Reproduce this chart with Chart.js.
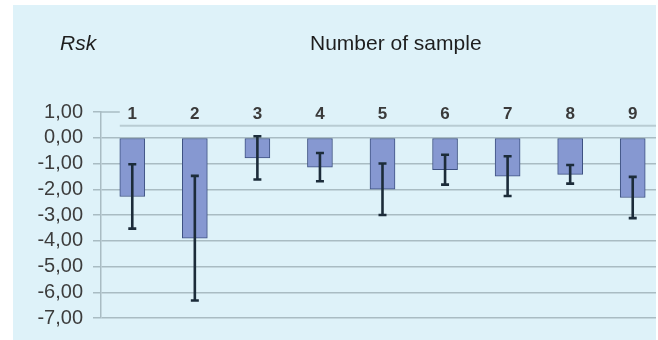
<!DOCTYPE html>
<html><head><meta charset="utf-8">
<script src="https://cdn.jsdelivr.net/npm/chart.js@4.4.0/dist/chart.umd.min.js"></script>
<style>
html,body{margin:0;padding:0;background:#fff;}
#wrap{position:relative;width:656px;height:340px;overflow:hidden;}
canvas{display:block;}
</style></head><body>
<div id="wrap"><canvas id="c" width="664" height="340"></canvas></div>
<script>
const categories = ['1','2','3','4','5','6','7','8','9'];
const rskMeans  = [-2.28, -3.90, -0.78, -1.14, -2.00, -1.24, -1.49, -1.42, -2.32];
const rskErrors = [ 1.25,  2.42,  0.84,  0.55,  1.00,  0.58,  0.77,  0.36,  0.80];
const yMin = -7, yMax = 1, yStep = 1;
const yAxisTitle = 'Rsk';
const chartTitle = 'Number of sample';

const FONT = "'Liberation Sans', Arial, sans-serif";
const GRID = '#a9bcc3';
const BG = '#def2f9';

const bgPlugin = {
  id: 'bg',
  beforeDraw(chart) {
    const ctx = chart.ctx;
    ctx.save();
    ctx.fillStyle = BG;
    ctx.fillRect(13, 5, 643, 335);
    ctx.fillStyle = '#1e1e1e';
    ctx.font = 'italic 21px ' + FONT;
    ctx.textBaseline = 'alphabetic';
    ctx.fillText(yAxisTitle, 60, 49.5);
    ctx.font = '21px ' + FONT;
    ctx.fillText(chartTitle, 310, 49.5);
    ctx.restore();
  },
  beforeDatasetsDraw(chart) {
    const ctx = chart.ctx, y = chart.scales.y, ca = chart.chartArea;
    const firstBar = chart.getDatasetMeta(0).data[0];
    const bl = firstBar.x - firstBar.width / 2;
    ctx.save();
    ctx.strokeStyle = GRID;
    ctx.lineWidth = 1.5;
    ctx.beginPath();
    ctx.moveTo(ca.left, y.getPixelForValue(yMax));
    ctx.lineTo(bl, y.getPixelForValue(yMax));
    ctx.stroke();
    ctx.strokeStyle = '#b9ccd3';
    ctx.lineWidth = 2;
    ctx.beginPath();
    ctx.moveTo(bl, y.getPixelForValue(0.47));
    ctx.lineTo(ca.right, y.getPixelForValue(0.47));
    ctx.stroke();
    ctx.restore();
  }
};

const errPlugin = {
  id: 'err',
  afterDatasetsDraw(chart) {
    const ctx = chart.ctx, y = chart.scales.y;
    const meta = chart.getDatasetMeta(0);
    ctx.save();
    ctx.strokeStyle = '#1c2c3a';
    ctx.lineWidth = 2.6;
    meta.data.forEach((bar, i) => {
      const yt = y.getPixelForValue(rskMeans[i] + rskErrors[i]);
      const yb = y.getPixelForValue(rskMeans[i] - rskErrors[i]);
      ctx.beginPath();
      ctx.moveTo(bar.x, yt); ctx.lineTo(bar.x, yb);
      ctx.moveTo(bar.x - 4, yt); ctx.lineTo(bar.x + 4, yt);
      ctx.moveTo(bar.x - 4, yb); ctx.lineTo(bar.x + 4, yb);
      ctx.stroke();
    });
    ctx.restore();
  }
};

Chart.defaults.font.family = FONT;

new Chart(document.getElementById('c'), {
  type: 'bar',
  data: {
    labels: categories,
    datasets: [{
      data: rskMeans,
      backgroundColor: '#8698d1',
      borderColor: '#3e5282',
      borderWidth: 1,
      borderSkipped: false,
      barThickness: 25
    }]
  },
  options: {
    responsive: false,
    animation: false,
    devicePixelRatio: 1,
    layout: { padding: { top: 112, bottom: 20, left: 0, right: 0 } },
    plugins: { legend: { display: false }, tooltip: { enabled: false } },
    scales: {
      x: {
        position: 'top',
        offset: true,
        grid: { display: false, drawTicks: false },
        border: { display: false },
        ticks: {
          color: '#3a3a3a',
          font: { size: 17, weight: 'bold', lineHeight: 1 },
          mirror: true,
          padding: -6,
          maxRotation: 0,
          autoSkip: false
        },
        afterFit(scale) { scale.height = 0; }
      },
      y: {
        min: yMin, max: yMax,
        ticks: {
          stepSize: yStep,
          autoSkip: false,
          color: '#3d3d3d',
          font: { size: 20 },
          padding: 10,
          callback: v => v.toFixed(2).replace('.', ',')
        },
        grid: {
          color: c => (c.tick && c.tick.value === yMax) ? 'rgba(0,0,0,0)' : GRID,
          tickColor: GRID,
          tickLength: 8,
          lineWidth: 1.5
        },
        border: { display: true, color: GRID, width: 1.5 },
        afterFit(scale) { scale.width = 101; }
      }
    }
  },
  plugins: [bgPlugin, errPlugin]
});
</script>
</body></html>
